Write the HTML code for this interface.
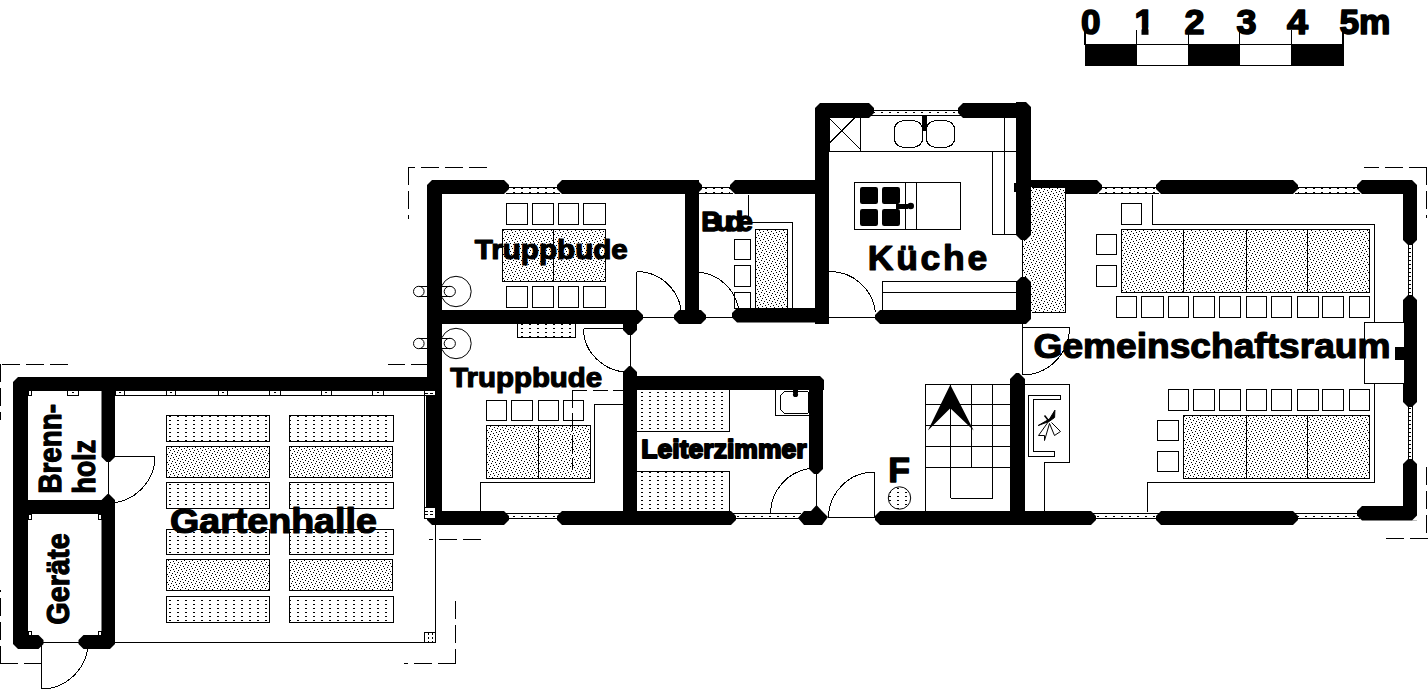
<!DOCTYPE html>
<html><head><meta charset="utf-8"><title>Grundriss</title>
<style>html,body{margin:0;padding:0;background:#fff}svg{display:block}text{font-family:"Liberation Sans",sans-serif;font-weight:bold;fill:#000}</style>
</head><body>
<svg width="1428" height="691" viewBox="0 0 1428 691">
<rect width="1428" height="691" fill="#fff"/>
<defs><pattern id="pt" width="8" height="8" patternUnits="userSpaceOnUse" x="0" y="0"><rect width="8" height="8" fill="#fff"/><rect x="0" y="0" width="1" height="1" fill="#000"/><rect x="5" y="1" width="1" height="1" fill="#000"/><rect x="2" y="2" width="1" height="1" fill="#000"/><rect x="6" y="3" width="1" height="1" fill="#000"/><rect x="1" y="4" width="1" height="1" fill="#000"/><rect x="4" y="5" width="1" height="1" fill="#000"/><rect x="7" y="6" width="1" height="1" fill="#000"/><rect x="3" y="7" width="1" height="1" fill="#000"/></pattern><pattern id="pb" width="8" height="4" patternUnits="userSpaceOnUse" x="1" y="0"><rect width="8" height="4" fill="#fff"/><rect x="0" y="0" width="2" height="1" fill="#000"/></pattern><pattern id="pb2" width="5" height="3" patternUnits="userSpaceOnUse" x="0" y="0"><rect width="5" height="3" fill="#fff"/><rect x="0" y="0" width="1" height="1" fill="#000"/></pattern></defs><g fill="#000" stroke="none"><polygon points="13,377 428,377 428,391 13,391"/><polygon points="13,377 28,377 28,649 13,649"/><polygon points="13,500 115,500 115,514 13,514"/><polygon points="13,635 38.5,635 43.5,640 43.5,644 38.5,649 13,649"/><polygon points="83.5,635 115,635 115,649 83.5,649 78.5,644 78.5,640"/><polygon points="101.5,377 115,377 115,457 110,462 106.5,462 101.5,457"/><polygon points="101.5,500 107.5,494 109,494 115,500 115,649 101.5,649"/><polygon points="427,180 442,180 442,525 427,525"/><polygon points="427,180 504,180 509,185 509,189 504,194 427,194"/><polygon points="562,180 697,180 702,185 702,189 697,194 562,194 557,189 557,185"/><polygon points="735,180 817,180 817,194 735,194 730,189 730,185"/><polygon points="815,103 829,103 829,324 815,324"/><polygon points="815,103 869,103 874,108 874,113 869,118 815,118"/><polygon points="963,103 1031,103 1031,118 963,118 958,113 958,108"/><polygon points="1016,102 1031,102 1031,235 1026,240 1021,240 1016,235"/><polygon points="1016,282 1021,277 1026,277 1031,282 1031,324 1016,324"/><polygon points="880,310 1031,310 1031,324 880,324 875,319 875,315"/><polygon points="737,308 829,308 829,322.5 737,322.5 732,317.5 732,313"/><polygon points="442,310 638,310 643,315 643,319 638,324 442,324"/><polygon points="685,180 699,180 699,316 685,316"/><polygon points="679,310 701,310 706,315 706,319 701,324 679,324 674,319 674,315"/><polygon points="623,316 637,316 637,330 632,335 628,335 623,330"/><polygon points="623,372 629,366 631,366 637,372 637,512 623,512"/><polygon points="623,376 824,376 824,390 623,390"/><polygon points="809,376 823,376 823,469 818,474 814,474 809,469"/><polygon points="427,511 504,511 509,516 509,520 504,525 427,525"/><polygon points="562,511 731,511 736,516 736,520 731,525 562,525 557,520 557,516"/><polygon points="798,518 804,511 811,511 816.5,505 822,511 828,517 822,525 804,525"/><polygon points="880,511 1091,511 1096,516 1096,520 1091,525 880,525 875,520 875,516"/><polygon points="1161,511 1293,511 1298,516 1298,520 1293,525 1161,525 1156,520 1156,516"/><polygon points="1362,506 1417,506 1417,520.5 1362,520.5 1357,515.5 1357,511"/><polygon points="1031,180 1097,180 1102,185 1102,189 1097,194 1031,194"/><polygon points="1161,180 1293,180 1298,185 1298,189 1293,194 1161,194 1156,189 1156,185"/><polygon points="1362,180 1417,180 1417,194 1362,194 1357,189 1357,185"/><polygon points="1403,180 1417,180 1417,240 1412,245 1408,245 1403,240"/><polygon points="1403,300 1408,295 1412,295 1417,300 1417,402 1412,407 1408,407 1403,402"/><polygon points="1403,464 1408,459 1412,459 1417,464 1417,515 1403,515"/><polygon points="1010,379 1016,373 1019,373 1025,379 1025,512 1010,512"/></g><polygon fill="#fff" points="13,377 18,377 13,382"/><polygon fill="#fff" points="13,649 18,649 13,644"/><polygon fill="#fff" points="115,649 110,649 115,644"/><polygon fill="#fff" points="427,180 432,180 427,185"/><polygon fill="#fff" points="427,525 432,525 427,520"/><polygon fill="#fff" points="815,103 820,103 815,108"/><polygon fill="#fff" points="1031,102 1026,102 1031,107"/><polygon fill="#fff" points="1031,324 1026,324 1031,319"/><polygon fill="#fff" points="824,376 820,376 824,380"/><polygon fill="#fff" points="1417,180 1412,180 1417,185"/><polygon fill="#fff" points="1417,520.5 1412,520.5 1417,515.5"/><g fill="none" stroke="#000" stroke-width="1" shape-rendering="crispEdges"><rect x="509" y="187" width="48" height="7" fill="url(#pb)" stroke="none"/><line x1="506" y1="187.5" x2="560" y2="187.5" /><line x1="506" y1="193.5" x2="560" y2="193.5" /><rect x="702" y="187" width="28" height="7" fill="url(#pb)" stroke="none"/><line x1="699" y1="187.5" x2="733" y2="187.5" /><line x1="699" y1="193.5" x2="733" y2="193.5" /><rect x="1102" y="187" width="54" height="7" fill="url(#pb)" stroke="none"/><line x1="1099" y1="187.5" x2="1159" y2="187.5" /><line x1="1099" y1="193.5" x2="1159" y2="193.5" /><rect x="1298" y="187" width="59" height="7" fill="url(#pb)" stroke="none"/><line x1="1295" y1="187.5" x2="1360" y2="187.5" /><line x1="1295" y1="193.5" x2="1360" y2="193.5" /><rect x="874" y="110" width="84" height="6" fill="url(#pb)" stroke="none"/><line x1="871" y1="110.5" x2="961" y2="110.5" /><line x1="871" y1="115.5" x2="961" y2="115.5" /><rect x="509" y="513" width="48" height="6" fill="url(#pb)" stroke="none"/><line x1="506" y1="513.5" x2="560" y2="513.5" /><line x1="506" y1="518.5" x2="560" y2="518.5" /><rect x="736" y="513" width="62" height="6" fill="url(#pb)" stroke="none"/><line x1="733" y1="513.5" x2="801" y2="513.5" /><line x1="733" y1="518.5" x2="801" y2="518.5" /><rect x="1096" y="513" width="60" height="6" fill="url(#pb)" stroke="none"/><line x1="1093" y1="513.5" x2="1159" y2="513.5" /><line x1="1093" y1="518.5" x2="1159" y2="518.5" /><rect x="1298" y="513" width="59" height="6" fill="url(#pb)" stroke="none"/><line x1="1295" y1="513.5" x2="1360" y2="513.5" /><line x1="1295" y1="518.5" x2="1360" y2="518.5" /><rect x="1408" y="245" width="5" height="50" fill="url(#pb)" stroke="none"/><line x1="1408.5" y1="242" x2="1408.5" y2="298" /><line x1="1412.5" y1="242" x2="1412.5" y2="298" /><rect x="1408" y="407" width="5" height="52" fill="url(#pb)" stroke="none"/><line x1="1408.5" y1="404" x2="1408.5" y2="462" /><line x1="1412.5" y1="404" x2="1412.5" y2="462" /><line x1="115" y1="395.5" x2="425" y2="395.5" /><line x1="424.5" y1="395" x2="424.5" y2="508" /><line x1="426.5" y1="395" x2="426.5" y2="508" /><line x1="435.5" y1="525" x2="435.5" y2="642.5" /><line x1="115" y1="642.5" x2="435.5" y2="642.5" /><rect x="67.5" y="390.5" width="11" height="5" fill="none" /><rect x="72" y="392" width="2" height="1" fill="#000" stroke="none"/><rect x="115.5" y="390.5" width="9" height="5" fill="none" /><rect x="119" y="392" width="2" height="1" fill="#000" stroke="none"/><rect x="166.5" y="390.5" width="9" height="5" fill="none" /><rect x="170" y="392" width="2" height="1" fill="#000" stroke="none"/><rect x="218.5" y="390.5" width="9" height="5" fill="none" /><rect x="222" y="392" width="2" height="1" fill="#000" stroke="none"/><rect x="269.5" y="390.5" width="11" height="5" fill="none" /><rect x="274" y="392" width="2" height="1" fill="#000" stroke="none"/><rect x="321.5" y="390.5" width="10" height="5" fill="none" /><rect x="325" y="392" width="2" height="1" fill="#000" stroke="none"/><rect x="372.5" y="390.5" width="11" height="5" fill="none" /><rect x="377" y="392" width="2" height="1" fill="#000" stroke="none"/><rect x="28.5" y="390.5" width="3" height="5" fill="#fff" /><rect x="28.5" y="514.5" width="3" height="5" fill="#fff" /><rect x="98.5" y="514.5" width="3" height="5" fill="#fff" /><rect x="28.5" y="631.5" width="3" height="4" fill="#fff" /><rect x="98.5" y="631.5" width="3" height="4" fill="#fff" /><rect x="424.5" y="390.5" width="11" height="5" fill="#fff" /><line x1="425" y1="393.5" x2="436" y2="393.5" stroke-dasharray="3 2"/><rect x="424.5" y="507.5" width="11" height="11" fill="#fff" /><line x1="424.5" y1="511.5" x2="435.5" y2="511.5" stroke-dasharray="3 2"/><line x1="424.5" y1="514.5" x2="435.5" y2="514.5" stroke-dasharray="3 2"/><rect x="424.5" y="632.5" width="11" height="10" fill="#fff" /><line x1="428.5" y1="632.5" x2="428.5" y2="642.5" stroke-dasharray="2 2"/><line x1="432.5" y1="632.5" x2="432.5" y2="642.5" stroke-dasharray="2 2"/><rect x="506.5" y="203.5" width="21" height="21" fill="#fff" /><rect x="506.5" y="286.5" width="21" height="21" fill="#fff" /><rect x="532.5" y="203.5" width="21" height="21" fill="#fff" /><rect x="532.5" y="286.5" width="21" height="21" fill="#fff" /><rect x="558.5" y="203.5" width="20" height="21" fill="#fff" /><rect x="558.5" y="286.5" width="20" height="21" fill="#fff" /><rect x="583.5" y="203.5" width="22" height="21" fill="#fff" /><rect x="583.5" y="286.5" width="22" height="21" fill="#fff" /><rect x="486.5" y="400.5" width="20" height="20" fill="#fff" /><rect x="511.5" y="400.5" width="21" height="20" fill="#fff" /><rect x="538.5" y="400.5" width="20" height="20" fill="#fff" /><rect x="563.5" y="400.5" width="20" height="20" fill="#fff" /><rect x="734.5" y="239.5" width="16" height="20" fill="#fff" /><rect x="734.5" y="265.5" width="16" height="21" fill="#fff" /><rect x="734.5" y="292.5" width="16" height="16" fill="#fff" /><rect x="1121.5" y="203.5" width="20" height="21" fill="#fff" /><rect x="1096.5" y="234.5" width="20" height="20" fill="#fff" /><rect x="1096.5" y="265.5" width="20" height="21" fill="#fff" /><rect x="1116.5" y="296.5" width="20" height="21" fill="#fff" /><rect x="1141.5" y="296.5" width="22" height="21" fill="#fff" /><rect x="1168.5" y="296.5" width="20" height="21" fill="#fff" /><rect x="1193.5" y="296.5" width="21" height="21" fill="#fff" /><rect x="1219.5" y="296.5" width="21" height="21" fill="#fff" /><rect x="1246.5" y="296.5" width="20" height="21" fill="#fff" /><rect x="1271.5" y="296.5" width="20" height="21" fill="#fff" /><rect x="1297.5" y="296.5" width="21" height="21" fill="#fff" /><rect x="1322.5" y="296.5" width="21" height="21" fill="#fff" /><rect x="1349.5" y="296.5" width="20" height="21" fill="#fff" /><rect x="1168.5" y="389.5" width="20" height="21" fill="#fff" /><rect x="1193.5" y="389.5" width="21" height="21" fill="#fff" /><rect x="1219.5" y="389.5" width="21" height="21" fill="#fff" /><rect x="1246.5" y="389.5" width="20" height="21" fill="#fff" /><rect x="1271.5" y="389.5" width="20" height="21" fill="#fff" /><rect x="1297.5" y="389.5" width="21" height="21" fill="#fff" /><rect x="1322.5" y="389.5" width="21" height="21" fill="#fff" /><rect x="1349.5" y="389.5" width="20" height="21" fill="#fff" /><rect x="1157.5" y="420.5" width="21" height="20" fill="#fff" /><rect x="1157.5" y="451.5" width="21" height="20" fill="#fff" /><rect x="166.5" y="415.5" width="103" height="26" fill="url(#pb)" /><rect x="166.5" y="446.5" width="103" height="31" fill="url(#pt)" /><rect x="166.5" y="482.5" width="103" height="26" fill="url(#pb)" /><rect x="166.5" y="529.5" width="103" height="25" fill="url(#pb)" /><rect x="166.5" y="559.5" width="103" height="31" fill="url(#pt)" /><rect x="166.5" y="596.5" width="103" height="26" fill="url(#pb)" /><rect x="289.5" y="415.5" width="104" height="26" fill="url(#pb)" /><rect x="289.5" y="446.5" width="103" height="31" fill="url(#pt)" /><rect x="289.5" y="482.5" width="104" height="26" fill="url(#pb)" /><rect x="289.5" y="529.5" width="104" height="25" fill="url(#pb)" /><rect x="289.5" y="559.5" width="103" height="31" fill="url(#pt)" /><rect x="289.5" y="596.5" width="104" height="26" fill="url(#pb)" /><rect x="502.5" y="229.5" width="103" height="52" fill="url(#pt)" /><line x1="553.5" y1="229.5" x2="553.5" y2="281.5" /><rect x="486.5" y="425.5" width="104" height="53" fill="url(#pt)" /><line x1="538.5" y1="425.5" x2="538.5" y2="478.5" /><rect x="517.5" y="323.5" width="58" height="14" fill="url(#pb)" /><rect x="636.5" y="389.5" width="93" height="42" fill="url(#pb)" /><rect x="636.5" y="471.5" width="93" height="40" fill="url(#pb)" /><rect x="755.5" y="229.5" width="32" height="79" fill="url(#pt)" /><rect x="1121.5" y="229.5" width="248" height="63" fill="url(#pt)" /><line x1="1183.5" y1="229.5" x2="1183.5" y2="292.5" /><line x1="1246.5" y1="229.5" x2="1246.5" y2="292.5" /><line x1="1307.5" y1="229.5" x2="1307.5" y2="292.5" /><rect x="1183.5" y="415.5" width="186" height="63" fill="url(#pt)" /><line x1="1246.5" y1="415.5" x2="1246.5" y2="478.5" /><line x1="1307.5" y1="415.5" x2="1307.5" y2="478.5" /><rect x="1031" y="187" width="35" height="126" fill="url(#pt)" stroke="none"/><rect x="1023" y="240" width="8" height="37" fill="url(#pt)" stroke="none"/><polyline points="1031.5,187.5 1065.5,187.5 1065.5,312.5 1031.5,312.5" /><polyline points="623.5,404.5 594.5,404.5 594.5,482.5 480.5,482.5 480.5,511.5" /><polyline points="748.5,194.5 748.5,222.5 792.5,222.5 792.5,308.5" /><polyline points="1152.5,194.5 1152.5,224.5 1374.5,224.5 1374.5,322.5" /><polyline points="1374.5,383.5 1374.5,482.5 1147.5,482.5 1147.5,511.5" /><rect x="1364.5" y="322.5" width="40" height="61" fill="#fff" /><rect x="1395" y="347" width="9" height="12.5" fill="#000" stroke="none"/><line x1="829" y1="151.5" x2="1016" y2="151.5" /><rect x="829.5" y="117.5" width="31" height="34" fill="none" /><line x1="829" y1="118" x2="860.5" y2="149.5" /><line x1="854.5" y1="118" x2="829" y2="143.5" /><rect x="894.5" y="120.5" width="28" height="27" rx="10.5" ry="8.5"/><rect x="926.5" y="120.5" width="28" height="27" rx="10.5" ry="8.5"/><rect x="922" y="116" width="4.5" height="14.5" fill="#000" stroke="none"/><line x1="1004.5" y1="117.5" x2="1004.5" y2="234.5" /><polyline points="992.5,151.5 992.5,234.5 1016.5,234.5" /><rect x="854.5" y="182.5" width="106" height="47" fill="#fff" /><line x1="905.5" y1="182.5" x2="905.5" y2="229.5" /><line x1="916.5" y1="182.5" x2="916.5" y2="229.5" /><rect x="860" y="187" width="18" height="17" rx="2.2" fill="#000" stroke="none" shape-rendering="auto"/><rect x="860" y="209" width="18" height="17" rx="2.2" fill="#000" stroke="none" shape-rendering="auto"/><rect x="882" y="187" width="18" height="17" rx="2.2" fill="#000" stroke="none" shape-rendering="auto"/><rect x="882" y="209" width="18" height="17" rx="2.2" fill="#000" stroke="none" shape-rendering="auto"/><rect x="896" y="204" width="12" height="4.7" fill="#000" stroke="none"/><circle cx="910.7" cy="206" r="3.3" fill="#000" stroke="none" shape-rendering="auto"/><rect x="882.5" y="281.5" width="134" height="29" fill="#fff" /><line x1="882.5" y1="292.5" x2="1016" y2="292.5" /><rect x="1014" y="183" width="3" height="9" fill="#000" stroke="none"/><rect x="775.5" y="389.5" width="34" height="26" fill="none" /><polygon points="784.5,391.5 807.5,391.5 808.5,392.5 808.5,412.5 807.5,413.5 784.5,413.5 780.5,409.5 780.5,395.5"/><circle cx="795.5" cy="394.5" r="2.6" fill="#000" stroke="none" shape-rendering="auto"/><rect x="793" y="390" width="5" height="3" fill="#000" stroke="none"/><circle cx="456" cy="291.5" r="15.2" shape-rendering="auto"/><ellipse cx="418.8" cy="291.5" rx="5.3" ry="5.2" shape-rendering="auto"/><ellipse cx="449.8" cy="291.5" rx="5.6" ry="5.2" shape-rendering="auto"/><line x1="418.8" y1="286.5" x2="427" y2="286.5" /><line x1="418.8" y1="296.5" x2="427" y2="296.5" /><line x1="442" y1="286.5" x2="449.8" y2="286.5" /><line x1="442" y1="296.5" x2="449.8" y2="296.5" /><circle cx="456" cy="343.5" r="15.2" shape-rendering="auto"/><ellipse cx="418.8" cy="343.5" rx="5.3" ry="5.2" shape-rendering="auto"/><ellipse cx="449.8" cy="343.5" rx="5.6" ry="5.2" shape-rendering="auto"/><line x1="418.8" y1="338.5" x2="427" y2="338.5" /><line x1="418.8" y1="348.5" x2="427" y2="348.5" /><line x1="442" y1="338.5" x2="449.8" y2="338.5" /><line x1="442" y1="348.5" x2="449.8" y2="348.5" /><rect x="925.5" y="384.5" width="85" height="127" fill="none" /><line x1="925.5" y1="404.5" x2="1010" y2="404.5" /><line x1="925.5" y1="425.5" x2="1010" y2="425.5" /><line x1="925.5" y1="446.5" x2="1010" y2="446.5" /><line x1="925.5" y1="467.5" x2="1010" y2="467.5" /><line x1="950.5" y1="384.5" x2="950.5" y2="498" /><line x1="992.5" y1="384.5" x2="992.5" y2="498" /><line x1="971.5" y1="384.5" x2="971.5" y2="467.5" /><line x1="950.5" y1="498.5" x2="992.5" y2="498.5" /><polygon points="950.3,384.7 973.7,430.5 950.3,408.2 927.9,430.5" fill="#000" stroke="none" shape-rendering="auto"/><polyline points="1024.5,384.5 1069.5,384.5 1069.5,462.5 1044.5,462.5 1044.5,511.5" /><polygon points="1028.5,395.5 1060.5,395.5 1060.5,399.5 1033,399.5 1033,451.5 1054.5,451.5 1054.5,456.5 1028.5,456.5" fill="#fff"/><g shape-rendering="auto" stroke-width="1"><polygon points="1038.2,425.5 1046,421 1049.5,419 1054.9,410.2 1054.6,417.5 1049,421.5" fill="#000"/><polyline points="1044.5,415.5 1048.5,420.5" stroke-width="1.6"/><polyline points="1048.5,421.5 1038.5,435.5 1044.5,435.5 1044.5,440.5 1049.5,423.5" /><polyline points="1049.5,423.5 1054.5,435.5 1060.5,431.5 1051.5,422.5" /></g><circle cx="899.5" cy="498" r="11.2" fill="url(#pb)" shape-rendering="auto"/><line x1="108.5" y1="456" x2="108.5" y2="500" /><line x1="108.5" y1="456.5" x2="155" y2="456.5" /><path d="M155,456 A47,47 0 0 1 108.5,503" /><line x1="41" y1="642.5" x2="80" y2="642.5" /><line x1="41.5" y1="641" x2="41.5" y2="689" /><path d="M41,689 A47,47 0 0 0 88,642" /><line x1="636.5" y1="271.5" x2="636.5" y2="316" /><path d="M636.5,271.5 A45,45 0 0 1 681.5,316.5" /><line x1="643" y1="317.5" x2="675" y2="317.5" /><line x1="630.5" y1="330" x2="630.5" y2="370" /><line x1="583.5" y1="328.5" x2="630.5" y2="328.5" /><path d="M583.5,328.5 A47,44 0 0 0 630.5,372.5" /><path d="M698,272 A45,45 0 0 1 738.5,308" /><line x1="706" y1="317.5" x2="732" y2="317.5" /><path d="M829,271.5 A46,46 0 0 1 875.5,312" /><line x1="829" y1="317.5" x2="876" y2="317.5" /><line x1="1022.5" y1="323" x2="1022.5" y2="374" /><line x1="1022" y1="327.5" x2="1069.5" y2="327.5" /><path d="M1069.5,327.5 A47.5,47.5 0 0 1 1022,375" /><line x1="1022.5" y1="239" x2="1022.5" y2="278" /><line x1="816.5" y1="473" x2="816.5" y2="506" /><path d="M809,468.5 A46,46 0 0 0 770.5,513.5" /><line x1="874.5" y1="472" x2="874.5" y2="517.5" /><path d="M874.5,472 A46,46 0 0 0 828.5,517.5" /><line x1="828" y1="517.5" x2="875" y2="517.5" /><line x1="68.3" y1="364.5" x2="0" y2="364.5" stroke-dasharray="18 6"/><line x1="0.5" y1="363.5" x2="0.5" y2="420" stroke-dasharray="18 6"/><line x1="0.5" y1="663.5" x2="0.5" y2="590" stroke-dasharray="18 6"/><line x1="0" y1="663.5" x2="41" y2="663.5" stroke-dasharray="18 6"/><line x1="487" y1="167.5" x2="408" y2="167.5" stroke-dasharray="18 6"/><line x1="408.5" y1="167" x2="408.5" y2="218.5" stroke-dasharray="18 6"/><line x1="429.3" y1="364.5" x2="388" y2="364.5" stroke-dasharray="18 6"/><line x1="572" y1="390.5" x2="623" y2="390.5" stroke-dasharray="15 5.5"/><line x1="572.5" y1="390" x2="572.5" y2="470" stroke-dasharray="18 4.5"/><line x1="481" y1="539.5" x2="429" y2="539.5" stroke-dasharray="18 6"/><line x1="455.5" y1="601" x2="455.5" y2="663.5" stroke-dasharray="18 6"/><line x1="455.5" y1="663.5" x2="404" y2="663.5" stroke-dasharray="18 6"/><line x1="1426.7" y1="167.5" x2="1364" y2="167.5" stroke-dasharray="18 6"/><line x1="1426.5" y1="167" x2="1426.5" y2="218" stroke-dasharray="18 6"/><line x1="1426.5" y1="467" x2="1426.5" y2="532.5" stroke-dasharray="18 6"/><line x1="1428" y1="538.5" x2="1385" y2="538.5" stroke-dasharray="18 6"/></g><g shape-rendering="crispEdges"><rect x="1085.5" y="44.5" width="258" height="21" fill="#fff" stroke="#000" stroke-width="1.2"/><rect x="1085" y="44" width="51.6" height="22" fill="#000"/><rect x="1188.2" y="44" width="51.6" height="22" fill="#000"/><rect x="1291.4" y="44" width="51.6" height="22" fill="#000"/><line x1="1085" y1="30" x2="1085" y2="45" stroke="#000" stroke-width="1.2"/><line x1="1136.6" y1="30" x2="1136.6" y2="45" stroke="#000" stroke-width="1.2"/><line x1="1188.2" y1="30" x2="1188.2" y2="45" stroke="#000" stroke-width="1.2"/><line x1="1239.8" y1="30" x2="1239.8" y2="45" stroke="#000" stroke-width="1.2"/><line x1="1291.4" y1="30" x2="1291.4" y2="45" stroke="#000" stroke-width="1.2"/><line x1="1343" y1="30" x2="1343" y2="45" stroke="#000" stroke-width="1.2"/></g><text x="170" y="533" font-size="34.5" textLength="206.8" lengthAdjust="spacingAndGlyphs" stroke="#000" stroke-width="1.2" stroke-linejoin="round">Gartenhalle</text><text x="474.8" y="259.2" font-size="28" textLength="153" lengthAdjust="spacingAndGlyphs" stroke="#000" stroke-width="1.2" stroke-linejoin="round">Truppbude</text><text x="450.2" y="387.2" font-size="28" textLength="152" lengthAdjust="spacingAndGlyphs" stroke="#000" stroke-width="1.2" stroke-linejoin="round">Truppbude</text><text x="641.2" y="458" font-size="26.5" textLength="165.5" lengthAdjust="spacing" stroke="#000" stroke-width="2" stroke-linejoin="round">Leiterzimmer</text><text x="701.3" y="231" font-size="27.5" textLength="51.5" lengthAdjust="spacing" stroke="#000" stroke-width="1.4" stroke-linejoin="round">Bude</text><text x="867.8" y="270" font-size="35.5" textLength="119.5" lengthAdjust="spacing" stroke="#000" stroke-width="1.2" stroke-linejoin="round">K&#252;che</text><text x="1033.5" y="357.6" font-size="34.5" textLength="357" lengthAdjust="spacingAndGlyphs" stroke="#000" stroke-width="1.2" stroke-linejoin="round">Gemeinschaftsraum</text><text x="888.3" y="482" font-size="35.5" stroke="#000" stroke-width="1.4" stroke-linejoin="round">F</text><text x="69.3" y="624.8" font-size="31.5" textLength="91.5" lengthAdjust="spacingAndGlyphs" stroke="#000" stroke-width="1.2" stroke-linejoin="round" transform="rotate(-90 69.3 624.8)">Ger&#228;te</text><text x="61" y="493.6" font-size="31" textLength="89.5" lengthAdjust="spacingAndGlyphs" stroke="#000" stroke-width="1.2" stroke-linejoin="round" transform="rotate(-90 61 493.6)">Brenn-</text><text x="94.6" y="493.4" font-size="31" textLength="53.5" lengthAdjust="spacingAndGlyphs" stroke="#000" stroke-width="1.2" stroke-linejoin="round" transform="rotate(-90 94.6 493.4)">holz</text><text x="1081" y="33.6" font-size="35" textLength="19.5" lengthAdjust="spacingAndGlyphs" stroke="#000" stroke-width="1.6" stroke-linejoin="round">0</text><text x="1134.5" y="33.6" font-size="35" stroke="#000" stroke-width="1.6" stroke-linejoin="round">1</text><rect x="1134" y="27.5" width="7.5" height="9" fill="#fff"/><rect x="1148.5" y="27.5" width="7" height="9" fill="#fff"/><line x1="1136.5" y1="30" x2="1136.5" y2="45" stroke="#000" stroke-width="1" shape-rendering="crispEdges"/><text x="1184.5" y="33.6" font-size="35" textLength="20" lengthAdjust="spacingAndGlyphs" stroke="#000" stroke-width="1.6" stroke-linejoin="round">2</text><text x="1236.5" y="33.6" font-size="35" textLength="20" lengthAdjust="spacingAndGlyphs" stroke="#000" stroke-width="1.6" stroke-linejoin="round">3</text><text x="1287" y="33.6" font-size="35" textLength="21" lengthAdjust="spacingAndGlyphs" stroke="#000" stroke-width="1.6" stroke-linejoin="round">4</text><text x="1339.5" y="33.6" font-size="35" textLength="51" lengthAdjust="spacingAndGlyphs" stroke="#000" stroke-width="1.6" stroke-linejoin="round">5m</text>
</svg></body></html>
